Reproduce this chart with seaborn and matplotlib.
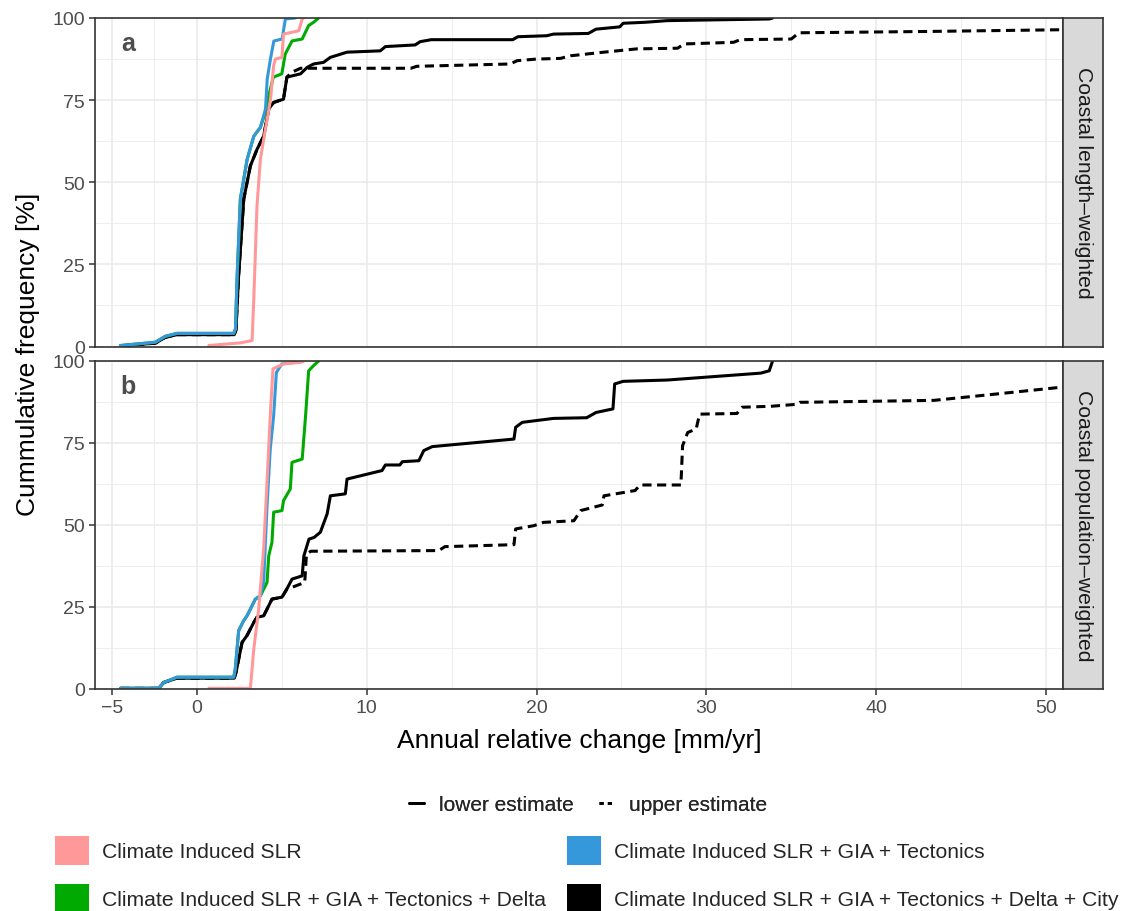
import matplotlib
matplotlib.use("Agg")
import matplotlib.pyplot as plt
from matplotlib.lines import Line2D
from matplotlib.patches import Patch
import seaborn as sns
import pandas as pd

# ---------------- data ----------------
SCEN_SLR = "Climate Induced SLR"
SCEN_GIA = "Climate Induced SLR + GIA + Tectonics"
SCEN_DELTA = "Climate Induced SLR + GIA + Tectonics + Delta"
SCEN_CITY = "Climate Induced SLR + GIA + Tectonics + Delta + City"
LOWER = "lower estimate"
UPPER = "upper estimate"

STRIP_A = "Coastal length\u2013weighted"
STRIP_B = "Coastal population\u2013weighted"

X_TICKS = [-5, 0, 10, 20, 30, 40, 50]
X_MINOR = [-2.5, 5, 15, 25, 35, 45]
Y_TICKS = [0, 25, 50, 75, 100]
Y_MINOR = [12.5, 37.5, 62.5, 87.5]

# Panel a : coastal length weighted
A_SLR_X = [0.7, 2.56, 3.25, 3.35, 3.54, 3.74, 4.03, 4.33, 4.52, 4.62, 5.01, 5.1, 6.0, 6.2, 6.3]
A_SLR_Y = [0.3, 1.1, 1.8, 14.5, 42.9, 57.0, 66.0, 75.0, 85.5, 87.5, 88.0, 95.1, 96.1, 99.7, 100]

A_GIA_X = [-4.5, -2.45, -1.86, -1.17, 2.17, 2.27, 2.37, 2.56, 2.96, 3.35, 3.74, 4.04, 4.14, 4.33, 4.53, 5.02, 5.21, 5.8]
A_GIA_Y = [0.3, 1.3, 3.1, 4.0, 4.0, 5.3, 21.5, 44.9, 57.0, 64.0, 66.7, 72.3, 81.4, 87.5, 93.0, 93.6, 99.7, 100]

A_DELTA_X = [-4.5, -2.45, -1.86, -1.17, 2.17, 2.27, 2.37, 2.56, 2.96, 3.35, 3.74, 4.04, 4.23, 4.5, 5.0, 5.2, 5.6, 6.2, 6.58, 6.87, 7.17]
A_DELTA_Y = [0.3, 1.3, 3.1, 4.0, 4.0, 5.3, 21.5, 44.9, 57.0, 64.0, 66.7, 71.5, 76.3, 82.0, 83.0, 89.0, 93.0, 93.6, 97.7, 98.7, 100]

A_CITY_LO_X = [-4.5, -2.45, -1.86, -1.17, 2.2, 2.3, 2.45, 2.76, 3.15, 3.54, 3.93, 4.23, 4.52, 5.1, 5.3, 6.1, 6.5,
               6.87, 7.46, 7.85, 8.84, 10.8, 11.1, 12.85, 13.15, 13.8, 18.6, 18.9, 20.6, 21.0, 23.05, 23.5, 24.9,
               25.1, 26.4, 27.7, 33.7, 33.9]
A_CITY_LO_Y = [0.2, 1.0, 2.8, 3.6, 3.6, 5.0, 21.0, 44.9, 55.0, 60.0, 64.0, 72.3, 74.3, 75.3, 82.0, 83.0, 85.0,
               86.0, 86.5, 88.0, 89.6, 90.0, 91.3, 91.8, 92.8, 93.4, 93.4, 94.3, 94.6, 95.1, 95.3, 96.6, 97.3,
               98.4, 98.7, 99.2, 99.7, 100]

A_CITY_UP_X = [-4.5, -2.45, -1.86, -1.17, 2.2, 2.3, 2.45, 2.76, 3.15, 3.54, 3.93, 4.23, 4.52, 5.1, 5.3, 5.6, 6.1,
               12.6, 12.95, 18.45, 18.85, 20.0, 21.4, 22.0, 23.97, 25.9, 28.3, 28.7, 31.6, 32.0, 35.0, 35.45,
               43.0, 52.0]
A_CITY_UP_Y = [0.2, 1.0, 2.8, 3.6, 3.6, 5.0, 21.0, 44.9, 55.0, 60.0, 64.0, 72.3, 74.3, 75.3, 82.0, 83.5, 84.7,
               84.7, 85.3, 86.0, 87.0, 87.5, 87.7, 88.5, 89.6, 90.6, 90.8, 92.1, 92.6, 93.4, 93.6, 95.5,
               95.9, 96.5]

# Panel b : coastal population weighted
B_SLR_X = [0.7, 3.15, 3.35, 3.64, 3.93, 4.13, 4.32, 4.48, 5.1, 6.1, 6.3]
B_SLR_Y = [0.2, 0.2, 12.2, 24.4, 42.7, 63.0, 83.3, 97.6, 99.1, 99.6, 100]

B_GIA_X = [-4.5, -2.25, -1.95, -1.17, 2.17, 2.26, 2.46, 2.75, 2.95, 3.25, 3.44, 3.74, 3.93, 4.13, 4.32, 4.52, 4.68, 5.0, 6.1]
B_GIA_Y = [0.2, 0.2, 2.0, 3.6, 3.6, 6.1, 17.8, 20.8, 22.3, 25.4, 27.4, 28.4, 32.5, 55.9, 73.2, 83.3, 96.5, 99.1, 99.8]

B_DELTA_X = [-4.5, -2.25, -1.95, -1.17, 2.17, 2.26, 2.46, 2.75, 2.95, 3.25, 3.44, 3.74, 4.13, 4.23, 4.42, 4.52,
             5.01, 5.1, 5.5, 5.6, 6.2, 6.4, 6.58, 6.87, 7.17]
B_DELTA_Y = [0.2, 0.2, 2.0, 3.6, 3.6, 6.1, 17.8, 20.8, 22.3, 25.4, 27.4, 28.4, 32.5, 40.6, 44.7, 53.9,
             54.4, 57.4, 61.0, 69.1, 70.1, 83.3, 97.0, 98.6, 100]

B_CITY_LO_X = [-4.5, -2.25, -1.95, -1.17, 2.2, 2.3, 2.46, 2.66, 2.95, 3.35, 3.54, 3.93, 4.23, 4.42, 5.01, 5.3,
               5.6, 6.2, 6.3, 6.6, 6.9, 7.27, 7.67, 7.86, 8.74, 8.84, 10.9, 11.1, 11.95, 12.1, 13.07, 13.36,
               13.86, 18.67, 18.77, 19.16, 21.0, 22.95, 23.5, 24.5, 24.6, 25.1, 27.7, 33.2, 33.7, 33.9]
B_CITY_LO_Y = [0.2, 0.2, 2.0, 3.3, 3.3, 5.0, 9.1, 14.2, 16.3, 20.3, 21.9, 22.3, 25.4, 27.4, 28.0, 30.5,
               33.5, 34.5, 40.6, 45.7, 46.2, 47.8, 53.4, 58.9, 59.5, 64.0, 66.6, 68.3, 68.3, 69.3, 69.6, 72.7,
               73.9, 76.2, 79.8, 81.3, 82.5, 82.7, 84.3, 85.4, 93.0, 93.8, 94.2, 96.3, 97.0, 100]

B_CITY_UP_X = [-4.5, -2.25, -1.95, -1.17, 2.2, 2.3, 2.46, 2.66, 2.95, 3.35, 3.54, 3.93, 4.23, 4.42, 5.01, 5.3,
               5.6, 6.1, 6.35, 6.45, 6.7, 14.25, 14.6, 18.67, 18.77, 19.85, 20.4, 22.2, 22.6, 23.87, 23.97,
               25.8, 26.1, 28.5, 28.6, 28.9, 29.4, 29.6, 31.8, 32.1, 33.8, 35.35, 35.5, 43.4, 47.0, 52.0]
B_CITY_UP_Y = [0.2, 0.2, 2.0, 3.3, 3.3, 5.0, 9.1, 14.2, 16.3, 20.3, 21.9, 22.3, 25.4, 27.4, 28.0, 30.5,
               31.0, 32.0, 32.5, 41.0, 42.0, 42.2, 43.4, 44.0, 48.8, 49.8, 50.8, 51.3, 54.4, 56.1, 58.9,
               60.5, 62.2, 62.2, 74.2, 78.2, 79.3, 83.8, 84.0, 85.9, 86.2, 86.8, 87.4, 88.0, 89.9, 92.6]

# ---------------- long table ----------------
series = [
    ("a", SCEN_SLR, LOWER, A_SLR_X, A_SLR_Y),
    ("a", SCEN_GIA, LOWER, A_GIA_X, A_GIA_Y),
    ("a", SCEN_DELTA, LOWER, A_DELTA_X, A_DELTA_Y),
    ("a", SCEN_CITY, LOWER, A_CITY_LO_X, A_CITY_LO_Y),
    ("a", SCEN_CITY, UPPER, A_CITY_UP_X, A_CITY_UP_Y),
    ("b", SCEN_SLR, LOWER, B_SLR_X, B_SLR_Y),
    ("b", SCEN_GIA, LOWER, B_GIA_X, B_GIA_Y),
    ("b", SCEN_DELTA, LOWER, B_DELTA_X, B_DELTA_Y),
    ("b", SCEN_CITY, LOWER, B_CITY_LO_X, B_CITY_LO_Y),
    ("b", SCEN_CITY, UPPER, B_CITY_UP_X, B_CITY_UP_Y),
]
rows = []
for panel, scen, est, xs, ys in series:
    for xv, yv in zip(xs, ys):
        rows.append({"panel": panel, "scenario": scen, "estimate": est, "x": xv, "y": yv})
df = pd.DataFrame(rows)

PALETTE = {SCEN_SLR: "#FF9999", SCEN_GIA: "#3498DB", SCEN_DELTA: "#00AA00", SCEN_CITY: "#000000"}
DRAW_ORDER = [SCEN_CITY, SCEN_DELTA, SCEN_GIA, SCEN_SLR]
# row-major legend (2 columns): matplotlib fills column-wise, so interleave
LEGEND_ORDER = [SCEN_SLR, SCEN_DELTA, SCEN_GIA, SCEN_CITY]
DASHES = {LOWER: "", UPPER: (3.0, 1.8)}

# ---------------- figure ----------------
sns.set_theme(style="white")
plt.rcParams['font.family'] = ['Liberation Sans', 'DejaVu Sans']

W, H = 1121, 912
fig = plt.figure(figsize=(W / 100, H / 100), dpi=100)


def fx(px):
    return px / W


def fy(py):
    return 1 - py / H


L, R = 95, 1063
STRIP_W = 40
panels = [("a", 19, 347.5, STRIP_A), ("b", 362, 690, STRIP_B)]
BORDER = "#333333"

for key, top, bot, strip in panels:
    ax = fig.add_axes([fx(L), fy(bot), (R - L) / W, (bot - top) / H])
    sub = df[df["panel"] == key]
    sns.lineplot(data=sub, x="x", y="y", hue="scenario", style="estimate",
                 hue_order=DRAW_ORDER, style_order=[UPPER, LOWER],
                 palette=PALETTE, dashes=DASHES, estimator=None, sort=False,
                 linewidth=2.2, legend=False, ax=ax)
    ax.set_xlim(-6, 51)
    ax.set_ylim(0, 100)
    ax.set_xticks(X_TICKS)
    ax.set_xticks(X_MINOR, minor=True)
    ax.set_yticks(Y_TICKS)
    ax.set_yticks(Y_MINOR, minor=True)
    ax.set_xticklabels([f"{t:g}".replace("-", "\u2212") for t in X_TICKS])
    ax.set_yticklabels([f"{t:g}" for t in Y_TICKS])
    ax.set_facecolor("white")
    ax.grid(which="major", color="#EBEBEB", linewidth=1.2)
    ax.grid(which="minor", color="#EBEBEB", linewidth=0.6)
    ax.set_axisbelow(True)
    for sp in ax.spines.values():
        sp.set_color(BORDER)
        sp.set_linewidth(1.2)
    ax.tick_params(which="major", direction="out", length=4.3, width=1.1, color=BORDER,
                   labelcolor="#4D4D4D", labelsize=14, pad=3,
                   left=True, bottom=True)
    ax.tick_params(which="minor", length=0)
    if key == "a":
        ax.tick_params(axis="x", which="major", length=0, labelbottom=False)
    ax.set_xlabel("")
    ax.set_ylabel("")
    ax.text(0.034, 0.925, key, transform=ax.transAxes, fontsize=18, fontweight="bold",
            color="#4D4D4D", ha="center", va="center")

    sax = fig.add_axes([fx(R), fy(bot), STRIP_W / W, (bot - top) / H])
    sax.set_facecolor("#D9D9D9")
    sax.set_xticks([])
    sax.set_yticks([])
    for sp in sax.spines.values():
        sp.set_color(BORDER)
        sp.set_linewidth(1.2)
    sax.text(0.5, 0.5, strip, transform=sax.transAxes, rotation=-90, ha="center", va="center",
             fontsize=15.2, color="#1A1A1A")

fig.text(fx(28), fy(354.5), "Cummulative frequency [%]", rotation=90, ha="center", va="center",
         fontsize=19, color="black")
fig.text(fx(579), fy(741), "Annual relative change [mm/yr]", ha="center", va="center",
         fontsize=19, color="black")

# linetype legend
lt_handles = [Line2D([0], [0], color="black", lw=2.0, linestyle="-"),
              Line2D([0], [0], color="black", lw=2.0, dashes=(1.5, 1.5))]
leg1 = fig.legend(lt_handles, [LOWER, UPPER], loc="center", bbox_to_anchor=(fx(588), fy(806)),
                  ncol=2, frameon=False, fontsize=15, handlelength=0.75, handletextpad=0.7,
                  columnspacing=1.2, borderpad=0)
fig.add_artist(leg1)

# colour legend
col_handles = [Patch(facecolor=PALETTE[s], edgecolor="none") for s in LEGEND_ORDER]
leg2 = fig.legend(col_handles, LEGEND_ORDER, loc="upper left", bbox_to_anchor=(fx(55), fy(837)),
                  ncol=2, frameon=False, fontsize=15.2, handlelength=1.6, handleheight=1.72,
                  handletextpad=0.62, labelspacing=0.9, columnspacing=1.0, borderpad=0,
                  borderaxespad=0)

fig.savefig("out.png", dpi=100)
